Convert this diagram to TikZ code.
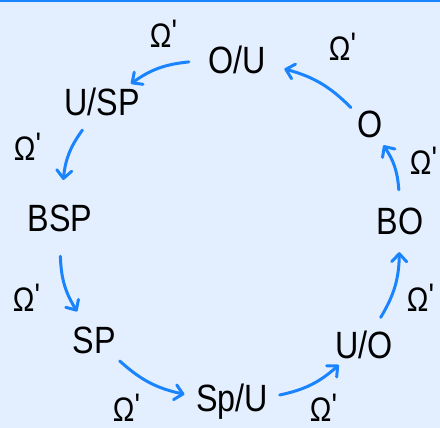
\documentclass[tikz,border=0pt]{standalone}
\usepackage{fontspec}
\setmainfont{Liberation Sans}[FakeStretch=0.85]
\usetikzlibrary{arrows.meta}
\definecolor{bg}{RGB}{227,239,254}
\definecolor{arr}{RGB}{26,132,255}
\newcommand{\om}{Ω\raisebox{4pt}{\textquotesingle}}
\begin{document}
\begin{tikzpicture}[x=1pt,y=-1pt,
  st/.style={circle,inner sep=-16pt,minimum size=#1,font=\fontsize{38}{38}\selectfont},
  lab/.style={inner sep=0pt,font=\fontsize{34}{34}\selectfont},
  conn/.style={draw=arr,line width=3pt,line cap=round,
    -{Straight Barb[length=8pt,width=15pt,round]},bend right=15}]
\fill[bg] (0,0) rectangle (440,428);
\useasboundingbox (0,0) rectangle (440,428);
\draw[arr,line width=2pt] (0,1) -- (440,1);
\node[st=96pt] (OU) at (237,60) {O/U};
\node[st=68pt] (USP) at (102,102) {U/SP};
\node[st=76pt] (BSP) at (60,218) {BSP};
\node[st=66pt] (SP) at (94,340) {SP};
\node[st=96pt] (SpU) at (232,402) {Sp/U};
\node[st=64pt] (UO) at (364,345) {U/O};
\node[st=62pt] (BO) at (400,221) {BO};
\node[st=50pt] (O) at (370,124) {O};
\draw[conn] (OU) to (USP);
\draw[conn] (USP) to (BSP);
\draw[conn] (BSP) to (SP);
\draw[conn] (SP) to (SpU);
\draw[conn] (SpU) to (UO);
\draw[conn] (UO) to (BO);
\draw[conn] (BO) to (O);
\draw[conn] (O) to (OU);
\node[lab] (l1) at (164,34) {\om};
\node[lab] (l2) at (343,47) {\om};
\node[lab] (l3) at (28,147) {\om};
\node[lab] (l4) at (424,161) {\om};
\node[lab] (l5) at (27,298) {\om};
\node[lab] (l6) at (421,298) {\om};
\node[lab] (l7) at (127,408) {\om};
\node[lab] (l8) at (324,408) {\om};
\end{tikzpicture}
\end{document}
